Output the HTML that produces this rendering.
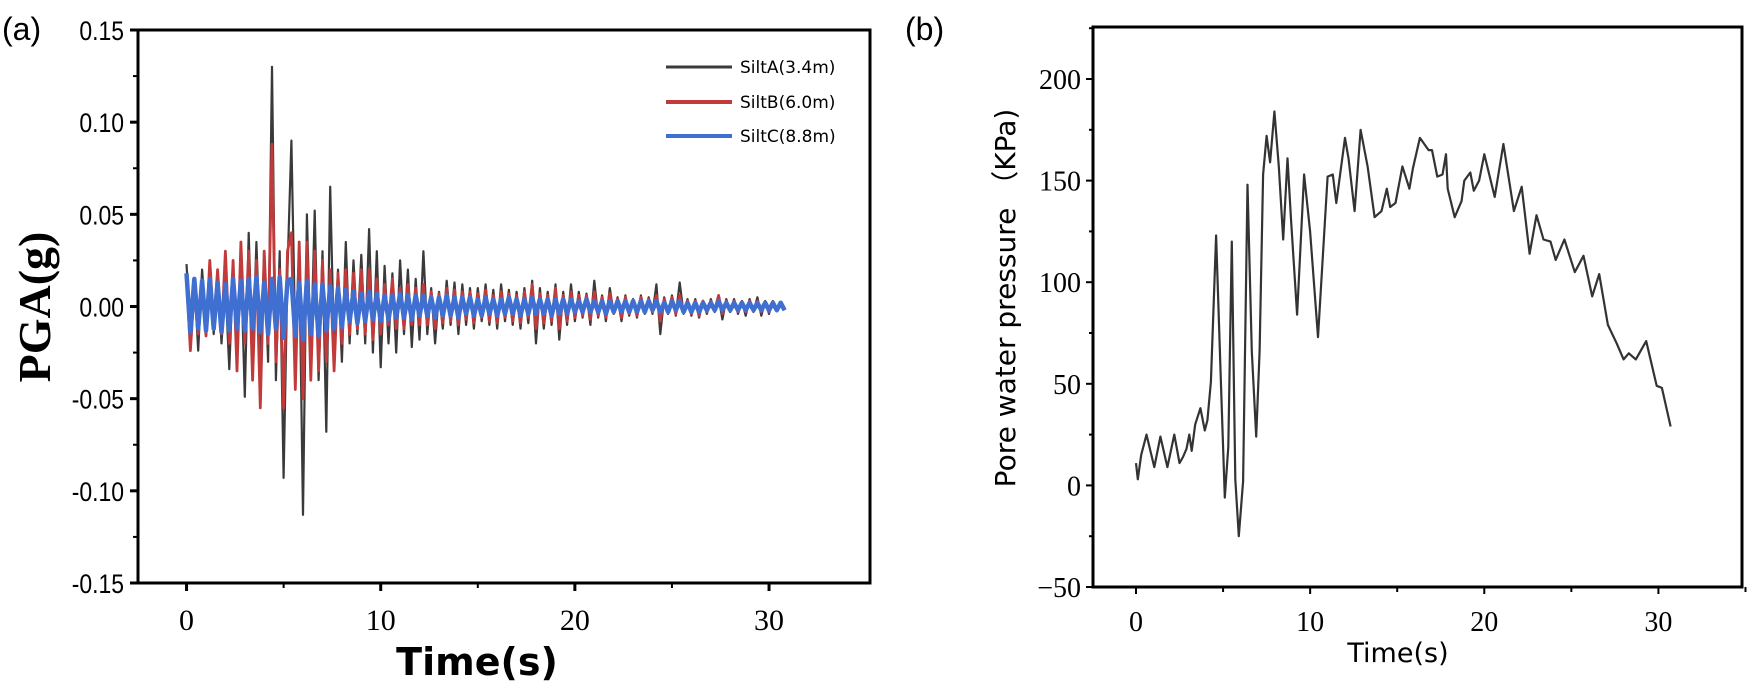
<!DOCTYPE html>
<html><head><meta charset="utf-8"><style>
body{margin:0;background:#fff;}
svg{display:block;}
</style></head><body>
<svg id="fig" width="1748" height="683" viewBox="0 0 1748 683" xmlns="http://www.w3.org/2000/svg">
<text x="2" y="40" font-family="Liberation Sans, sans-serif" font-size="32">(a)</text>
<text x="905" y="40" font-family="Liberation Sans, sans-serif" font-size="32">(b)</text>
<g id="pa"></g>
<g id="pb"></g>
<text transform="translate(50,307) rotate(-90)" text-anchor="middle" font-family="Liberation Serif, serif" font-weight="bold" font-size="46">PGA(g)</text>
<text x="477" y="675" text-anchor="middle" font-family="DejaVu Sans, sans-serif" font-weight="bold" font-size="38">Time(s)</text>
<text transform="translate(1015,298) rotate(-90)" text-anchor="middle" font-family="DejaVu Sans, sans-serif" font-size="28">Pore water pressure （KPa)</text>
<text x="1398" y="662" text-anchor="middle" font-family="DejaVu Sans, sans-serif" font-size="27">Time(s)</text>
<g>
<line x1="666" y1="67" x2="732" y2="67" stroke="#3a3a3a" stroke-width="3"/>
<text x="740" y="73" font-family="DejaVu Sans, sans-serif" font-size="17">SiltA(3.4m)</text>
<line x1="666" y1="102" x2="732" y2="102" stroke="#c23b3b" stroke-width="4"/>
<text x="740" y="108" font-family="DejaVu Sans, sans-serif" font-size="17">SiltB(6.0m)</text>
<line x1="666" y1="136" x2="732" y2="136" stroke="#3f6fd0" stroke-width="4"/>
<text x="740" y="142" font-family="DejaVu Sans, sans-serif" font-size="17">SiltC(8.8m)</text>
</g>
</svg>
<script>
// Panel (a) data: dt = 0.2 s
const dtA = 0.2;
const siltA = [0.023,-0.012,0.015,-0.024,0.02,-0.01,0.018,-0.015,0.02,-0.02,0.012,-0.034,0.02,-0.02,0.025,-0.049,0.04,-0.03,0.035,-0.025,0.028,
-0.03,0.13,-0.04,0.03,-0.093,0.02,0.09,-0.02,0.03,-0.113,0.05,-0.03,0.052,-0.04,0.03,-0.068,0.065,-0.025,0.02,-0.03,
0.035,-0.02,0.025,-0.015,0.028,-0.02,0.042,-0.025,0.03,-0.033,0.022,-0.02,0.018,-0.025,0.025,-0.015,0.02,-0.022,0.015,-0.018,
0.03,-0.015,0.01,-0.02,0.008,-0.012,0.014,-0.01,0.013,-0.015,0.012,-0.01,0.01,-0.012,0.01,-0.008,0.012,-0.01,0.009,-0.012,
0.012,-0.008,0.009,-0.01,0.008,-0.012,0.01,-0.009,0.014,-0.02,0.01,-0.012,0.008,-0.01,0.012,-0.018,0.008,-0.01,0.012,-0.008,
0.008,-0.006,0.007,-0.01,0.014,-0.006,0.006,-0.008,0.01,-0.004,0.005,-0.008,0.006,-0.005,0.004,-0.006,0.006,-0.004,0.005,-0.004,
0.012,-0.015,0.005,-0.004,0.006,-0.005,0.013,-0.004,0.004,-0.005,0.004,-0.006,0.003,-0.004,0.004,-0.003,0.005,-0.007,0.004,-0.003,
0.004,-0.004,0.003,-0.005,0.004,-0.003,0.005,-0.005,0.003,-0.004,0.003,-0.002,0.002,-0.002];
const siltB = [0.015,-0.024,0.01,-0.015,0.012,-0.016,0.025,-0.01,0.02,-0.015,0.03,-0.02,0.025,-0.035,0.035,-0.02,0.03,-0.04,0.025,-0.055,0.03,
-0.02,0.088,-0.03,0.02,-0.055,0.03,0.04,-0.045,0.035,-0.05,0.035,-0.04,0.03,-0.035,0.025,-0.03,0.02,-0.035,0.018,-0.02,
0.02,-0.015,0.018,-0.012,0.02,-0.015,0.02,-0.018,0.015,-0.015,0.012,-0.01,0.015,-0.012,0.01,-0.012,0.012,-0.01,0.01,-0.01,
0.012,-0.01,0.008,-0.012,0.007,-0.009,0.01,-0.008,0.009,-0.01,0.008,-0.007,0.008,-0.009,0.007,-0.006,0.009,-0.008,0.006,-0.009,
0.008,-0.006,0.007,-0.008,0.006,-0.009,0.008,-0.006,0.012,-0.012,0.007,-0.009,0.006,-0.008,0.01,-0.012,0.006,-0.008,0.008,-0.006,
0.006,-0.005,0.006,-0.007,0.008,-0.005,0.005,-0.006,0.007,-0.003,0.004,-0.006,0.005,-0.004,0.003,-0.005,0.005,-0.003,0.004,-0.003,
0.006,-0.008,0.004,-0.003,0.005,-0.004,0.006,-0.003,0.003,-0.004,0.003,-0.005,0.003,-0.003,0.003,-0.002,0.006,-0.004,0.003,-0.002,
0.003,-0.003,0.002,-0.003,0.003,-0.002,0.003,-0.003,0.002,-0.003,0.002,-0.002,0.002,-0.002];
const siltC = [0.018,-0.014,0.015,-0.012,0.014,-0.013,0.015,-0.012,0.013,-0.014,0.012,-0.013,0.015,-0.012,0.014,-0.013,0.015,-0.012,0.016,-0.014,0.013,
-0.015,0.015,-0.012,0.016,-0.017,0.014,0.015,-0.016,0.013,-0.018,0.014,-0.015,0.012,-0.016,0.012,-0.013,0.011,-0.012,0.01,-0.011,
0.009,-0.008,0.008,-0.009,0.007,-0.008,0.008,-0.007,0.007,-0.008,0.006,-0.007,0.006,-0.006,0.007,-0.006,0.006,-0.007,0.006,-0.005,
0.006,-0.005,0.005,-0.006,0.005,-0.005,0.006,-0.005,0.005,-0.006,0.005,-0.004,0.005,-0.005,0.004,-0.005,0.005,-0.004,0.004,-0.005,
0.004,-0.004,0.005,-0.004,0.004,-0.005,0.004,-0.004,0.005,-0.004,0.004,-0.004,0.004,-0.005,0.004,-0.004,0.004,-0.004,0.004,-0.003,
0.003,-0.003,0.004,-0.003,0.003,-0.003,0.003,-0.004,0.003,-0.003,0.003,-0.003,0.003,-0.003,0.003,-0.003,0.003,-0.003,0.003,-0.002,
0.003,-0.003,0.002,-0.003,0.003,-0.002,0.003,-0.003,0.002,-0.003,0.002,-0.003,0.002,-0.002,0.002,-0.002,0.003,-0.002,0.002,-0.002,
0.002,-0.002,0.002,-0.002,0.002,-0.002,0.002,-0.002,0.002,-0.002,0.002,-0.002,0.002,-0.002];
const xTicksA = [0,10,20,30];
const yTicksA = [0.15,0.10,0.05,0.00,-0.05,-0.10,-0.15];
const yTickLabelsA = ["0.15","0.10","0.05","0.00","-0.05","-0.10","-0.15"];
// Panel (b) data
const timesB = [0,0.1,0.3,0.6,1.05,1.4,1.8,2.2,2.5,2.7,2.9,3.06,3.2,3.4,3.7,3.95,4.1,4.3,4.6,4.9,5.1,5.3,5.5,5.7,5.9,6.15,6.4,6.65,6.9,7.1,7.3,7.5,7.7,7.95,8.2,8.45,8.7,8.9,9.25,9.65,10.0,10.45,11.0,11.3,11.5,12.0,12.2,12.55,12.9,13.3,13.7,14.1,14.4,14.6,14.9,15.3,15.7,15.9,16.3,16.8,17.0,17.3,17.6,17.8,17.9,18.3,18.7,18.85,19.2,19.4,19.7,20.0,20.6,21.1,21.7,22.15,22.6,23.0,23.4,23.8,24.1,24.6,25.2,25.7,26.2,26.6,27.1,27.6,28.0,28.3,28.7,29.3,29.9,30.2,30.7];
const pressureB = [11,3,15,25,9,24,9,25,11,14,18,25,17,30,38,27,32,51,123,45,-6,19,120,3,-25,2,148,66,24,66,153,172,159,184,157,121,161,131,84,153,125,73,152,153,139,171,161,135,175,157,132,135,146,137,139,157,146,156,171,165,165,152,153,163,146,132,140,150,154,145,150,163,142,168,135,147,114,133,121,120,111,121,105,113,93,104,79,70,62,65,62,71,49,48,29];
const xTicksB = [0,10,20,30];
const yTicksB = [200,150,100,50,0,-50];

const NS="http://www.w3.org/2000/svg";
function mk(parent,tag,attrs){const e=document.createElementNS(NS,tag);for(const k in attrs)e.setAttribute(k,attrs[k]);parent.appendChild(e);return e;}

const A={l:138,r:870,t:30,b:583,x0:-2.5,x1:35.2,y0:-0.15,y1:0.15};
const xA=v=>A.l+(v-A.x0)/(A.x1-A.x0)*(A.r-A.l);
const yA=v=>A.b-(v-A.y0)/(A.y1-A.y0)*(A.b-A.t);
const pa=document.getElementById('pa');
function series(arr,color,w,name){
  let d='';arr.forEach((v,i)=>{d+=(i?'L':'M')+xA(i*dtA).toFixed(1)+' '+yA(v).toFixed(1);});
  const p=mk(pa,'path',{d:d,fill:'none',stroke:color,'stroke-width':w,'stroke-linejoin':'round'});
  
  
}
series(siltA,'#3a3a3a',2.2,'series-silta');
series(siltB,'#c23b3b',2.8,'series-siltb');
series(siltC,'#3f6fd0',4.5,'series-siltc');
const frameA=mk(pa,'rect',{x:A.l,y:A.t,width:A.r-A.l,height:A.b-A.t,fill:'none',stroke:'#000','stroke-width':3});


xTicksA.forEach(v=>{
  mk(pa,'line',{x1:xA(v),x2:xA(v),y1:A.b,y2:A.b+8,stroke:'#000','stroke-width':3});
  const t=mk(pa,'text',{x:xA(v),y:A.b+47,'text-anchor':'middle','font-family':'Liberation Serif, serif','font-size':30});
  t.textContent=v;
  
  
  if(v<30) mk(pa,'line',{x1:xA(v+5),x2:xA(v+5),y1:A.b,y2:A.b+5,stroke:'#000','stroke-width':2});
});
yTicksA.forEach((v,i)=>{
  mk(pa,'line',{x1:A.l-8,x2:A.l,y1:yA(v),y2:yA(v),stroke:'#000','stroke-width':3});
  if(i<yTicksA.length-1) mk(pa,'line',{x1:A.l-5,x2:A.l,y1:yA(v-0.025),y2:yA(v-0.025),stroke:'#000','stroke-width':2});
  const t=mk(pa,'text',{x:A.l-14,y:yA(v)+10,'text-anchor':'end','font-family':'Liberation Sans, sans-serif','font-size':27,transform:'translate('+(A.l-14)+',0) scale(0.85,1) translate('+(-(A.l-14))+',0)'});
  t.textContent=yTickLabelsA[i];
  
  
});

const B={l:1093,r:1742,t:27,b:587,x0:-2.47,x1:34.8,y0:-50,y1:225.6};
const xB=v=>B.l+(v-B.x0)/(B.x1-B.x0)*(B.r-B.l);
const yB=v=>B.b-(v-B.y0)/(B.y1-B.y0)*(B.b-B.t);
const pb=document.getElementById('pb');
let dB='';timesB.forEach((t,i)=>{dB+=(i?'L':'M')+xB(t).toFixed(1)+' '+yB(pressureB[i]).toFixed(1);});
const lineB=mk(pb,'path',{d:dB,fill:'none',stroke:'#333','stroke-width':2.2,'stroke-linejoin':'round'});


const frameB=mk(pb,'rect',{x:B.l,y:B.t,width:B.r-B.l,height:B.b-B.t,fill:'none',stroke:'#000','stroke-width':3});


xTicksB.forEach(v=>{
  mk(pb,'line',{x1:xB(v),x2:xB(v),y1:B.b,y2:B.b+7,stroke:'#000','stroke-width':2});
  const t=mk(pb,'text',{x:xB(v),y:B.b+44,'text-anchor':'middle','font-family':'Liberation Serif, serif','font-size':28});
  t.textContent=v;
  
  
  mk(pb,'line',{x1:xB(v+5),x2:xB(v+5),y1:B.b,y2:B.b+5,stroke:'#000','stroke-width':2});
});
yTicksB.forEach(v=>{
  mk(pb,'line',{x1:B.l-7,x2:B.l,y1:yB(v),y2:yB(v),stroke:'#000','stroke-width':2});
  mk(pb,'line',{x1:B.l-4,x2:B.l,y1:yB(v+25),y2:yB(v+25),stroke:'#000','stroke-width':2});
  const t=mk(pb,'text',{x:B.l-12,y:yB(v)+10,'text-anchor':'end','font-family':'Liberation Serif, serif','font-size':28});
  t.textContent=v<0?'\u2212'+Math.abs(v):v;
  
  
});
</script>
</body></html>
